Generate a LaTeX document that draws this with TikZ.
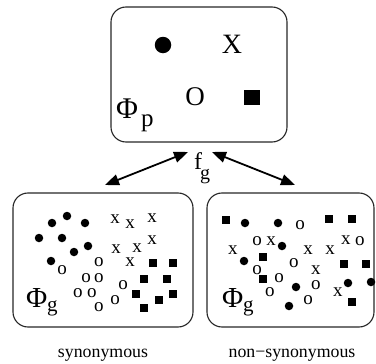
\documentclass[tikz,border=0pt]{standalone}
\usepackage{fontspec}
\setmainfont{Liberation Serif}
\usetikzlibrary{arrows.meta}
\tikzset{
  box/.style={draw=black!85, line width=1.1pt, rounded corners=15pt, inner sep=0pt},
  dotm/.style={circle, fill=black, inner sep=0pt, minimum size=8.5pt},
  sqm/.style={rectangle, fill=black, inner sep=0pt, minimum size=8pt},
  sym/.style={inner sep=0pt, font=\fontsize{19}{19}\selectfont},
  big/.style={inner sep=0pt, font=\fontsize{28}{28}\selectfont},
  lab/.style={inner sep=0pt, anchor=base, font=\fontsize{17.8}{18}\selectfont},
  arr/.style={line width=1.8pt, {Triangle[length=14pt,width=11pt]}-{Triangle[length=14pt,width=11pt]}}
}
\begin{document}
\begin{tikzpicture}[x=1pt,y=-1pt]
\useasboundingbox (0,0) rectangle (376,364);
% boxes
\node[box, minimum width=176pt, minimum height=135pt] (P) at (199,74.5) {};
\node[box, minimum width=180pt, minimum height=134pt] (L) at (103,260) {};
\node[box, minimum width=167pt, minimum height=134pt] (R) at (290.5,260) {};
% top box content
\node[dotm, minimum size=16.5pt] (pdot) at (163,45) {};
\node[big] (pX) at (232,44) {X};
\node[big, font=\fontsize{27}{27}\selectfont] (pO) at (195,97) {O};
\node[sqm, minimum width=16pt, minimum height=15.5pt] (psq) at (252,97.5) {};
\node[inner sep=0pt, anchor=base west, font=\fontsize{30}{30}\selectfont] (phip) at (116,118) {Φ};
\node[inner sep=0pt, anchor=base west, font=\fontsize{25}{25}\selectfont] (phipsub) at (141,127) {p};
% arrows
\coordinate (a1) at (188,152);
\coordinate (a2) at (105,185);
\coordinate (b1) at (212,152);
\coordinate (b2) at (295,185);
\draw[arr] (a1) -- (a2);
\draw[arr] (b1) -- (b2);
\node[inner sep=0pt, anchor=base west, font=\fontsize{24}{24}\selectfont] (fg) at (194,170) {f};
\node[inner sep=0pt, anchor=base west, font=\fontsize{20}{20}\selectfont] (fgsub) at (200,179) {g};
% left box
\node[inner sep=0pt, anchor=base west, font=\fontsize{29}{29}\selectfont] (phigl) at (26,307) {Φ};
\node[inner sep=0pt, anchor=base west, font=\fontsize{21}{21}\selectfont] (phiglsub) at (47,312) {g};
\foreach \p [count=\i] in {(52,223),(67,216),(85,223),(39,238),(62,238),(88,246),(74,252),(51,261)}
  \node[dotm] (ld\i) at \p {};
\foreach \p [count=\i] in {(115,219),(130,224),(152,218),(152,240),(137,248),(116,249),(130,262)}
  \node[sym] (lx\i) at \p {x};
\foreach \p [count=\i] in {(62,270),(99,262),(86,278),(99,278),(78,293),(92,293),(99,307),(115,300),(123,285)}
  \node[sym] (lo\i) at \p {o};
\foreach \p [count=\i] in {(153,263),(173,263),(144,279),(167,279),(136,294),(173,294),(159,300),(144,308)}
  \node[sqm] (ls\i) at \p {};
% right box
\node[inner sep=0pt, anchor=base west, font=\fontsize{29}{29}\selectfont] (phigr) at (222,307) {Φ};
\node[inner sep=0pt, anchor=base west, font=\fontsize{21}{21}\selectfont] (phigrsub) at (243,312) {g};
\foreach \p [count=\i] in {(226,220),(329,219),(352,219),(263,257),(263,279),(344,264),(366,264),(352,302)}
  \node[sqm] (rs\i) at \p {};
\foreach \p [count=\i] in {(245,223),(278,223),(282,246),(244,261),(296,287),(289,306),(348,283),(371,282)}
  \node[dotm] (rd\i) at \p {};
\foreach \p [count=\i] in {(300,225),(257,241),(360,241),(294,263),(257,270),(279,278),(316,285),(270,292),(308,300)}
  \node[sym] (ro\i) at \p {o};
\foreach \p [count=\i] in {(233,250),(271,241),(308,250),(330,250),(346,240),(316,270),(338,292)}
  \node[sym] (rx\i) at \p {x};
% labels
\node[lab] (syn) at (103,357) {synonymous};
\node[lab] (nsyn) at (292,357) {non−synonymous};
\end{tikzpicture}
\end{document}
